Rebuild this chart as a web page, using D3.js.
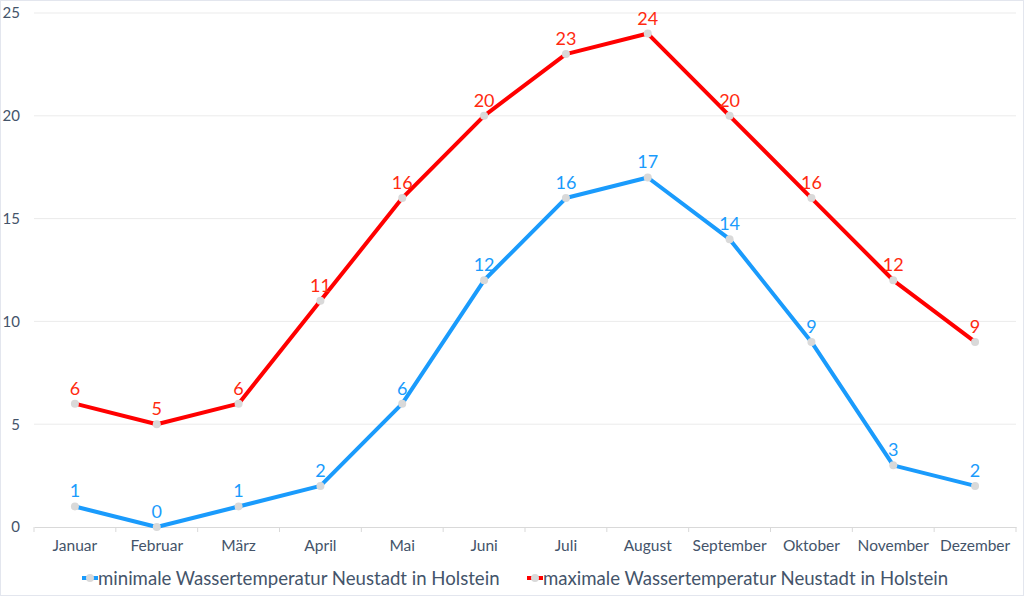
<!DOCTYPE html>
<html><head><meta charset="utf-8">
<script src="https://cdn.jsdelivr.net/npm/d3@7"></script>
<style>
html,body{margin:0;padding:0;background:#fff;}
svg{display:block;font-family:Lato,"Open Sans",sans-serif;}
</style></head>
<body>
<svg id="chart" width="1024" height="596"></svg>
<script>
const months = ["Januar","Februar","März","April","Mai","Juni","Juli","August","September","Oktober","November","Dezember"];
const minTemp = [1,0,1,2,6,12,16,17,14,9,3,2];
const maxTemp = [6,5,6,11,16,20,23,24,20,16,12,9];
const yTicks = [0,5,10,15,20,25];
const seriesNames = ["minimale Wassertemperatur Neustadt in Holstein","maximale Wassertemperatur Neustadt in Holstein"];
const seriesColors = ["#1a9bfc","#ff0000"];
const labelColors = ["#1a9bfc","#ff2a10"];

(function(){
const svg = d3.select("#chart");
const W = 1024, H = 596;
svg.append("rect").attr("x",0.5).attr("y",0.5).attr("width",W-1).attr("height",H-1)
  .attr("fill","#fff").attr("stroke","#e3e6ee").attr("stroke-width",1);

const mLeft = 34, mRight = 1016, mTop = 13, mBottom = 527;
const x = d3.scaleBand().domain(months).range([mLeft,mRight]).padding(0);
const y = d3.scaleLinear().domain([0,25]).range([mBottom,mTop]);

svg.append("g").selectAll("line").data(yTicks.filter(d=>d>0)).join("line")
  .attr("x1",mLeft).attr("x2",mRight).attr("y1",d=>y(d)).attr("y2",d=>y(d))
  .attr("stroke","#ebebeb").attr("stroke-width",1);

const ya = svg.append("g").attr("transform",`translate(${mLeft},0)`)
  .call(d3.axisLeft(y).tickValues(yTicks).tickSize(0).tickPadding(14));
ya.select(".domain").remove();
ya.selectAll("text").attr("fill","#44546a").style("font-size","15px").style("font-family","Lato,sans-serif");

const xa = svg.append("g").attr("transform",`translate(0,${mBottom})`)
  .call(d3.axisBottom(x).tickSize(0).tickPadding(13));
xa.select(".domain").attr("stroke","#d9d9d9");
xa.selectAll("text").attr("fill","#44546a").style("font-size","15.5px").style("font-family","Lato,sans-serif");
const bounds = months.map(m=>x(m)).concat([mRight]);
xa.append("g").selectAll("line").data(bounds).join("line")
  .attr("x1",d=>d).attr("x2",d=>d).attr("y1",0).attr("y2",5).attr("stroke","#d9d9d9");

const cx = m => x(m) + x.bandwidth()/2;
const line = d3.line().x((d,i)=>cx(months[i])).y(d=>y(d));

[minTemp,maxTemp].forEach((vals,s)=>{
  const g = svg.append("g");
  g.append("path").datum(vals).attr("d",line).attr("fill","none")
    .attr("stroke",seriesColors[s]).attr("stroke-width",4).attr("stroke-linejoin","round");
  g.selectAll("circle").data(vals).join("circle")
    .attr("cx",(d,i)=>cx(months[i])).attr("cy",d=>y(d)).attr("r",4).attr("fill","#d9d9d9");
  g.selectAll("text").data(vals).join("text")
    .attr("x",(d,i)=>cx(months[i])).attr("y",d=>y(d)-9)
    .attr("text-anchor","middle").attr("fill",labelColors[s])
    .style("font-size","18px").text(d=>d);
});

const legX = [82, 527];
seriesNames.forEach((name,s)=>{
  const g = svg.append("g").attr("transform",`translate(${legX[s]},578)`);
  g.append("line").attr("x1",0).attr("x2",16).attr("y1",0).attr("y2",0)
    .attr("stroke",seriesColors[s]).attr("stroke-width",4);
  g.append("circle").attr("cx",8).attr("cy",0).attr("r",4).attr("fill","#d9d9d9");
  g.append("text").attr("x",16).attr("y",0).attr("dy","0.35em")
    .attr("fill","#44546a").style("font-size","18.6px").text(name);
});
})();
</script>
</body></html>
